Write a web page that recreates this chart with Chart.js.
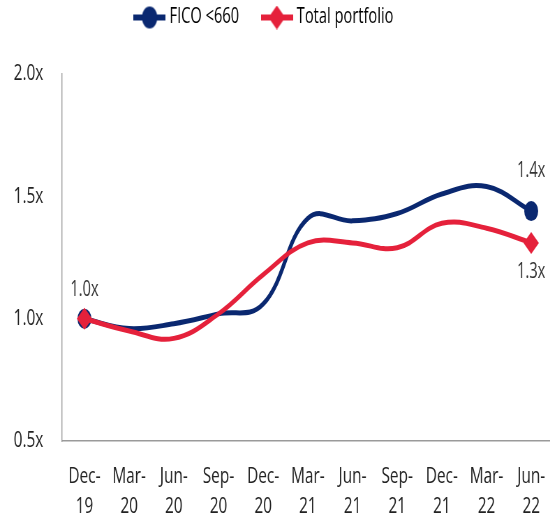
<!DOCTYPE html>
<html>
<head>
<meta charset="utf-8">
<script src="https://cdn.jsdelivr.net/npm/chart.js@4/dist/chart.umd.min.js"></script>
<style>
  html, body { margin: 0; padding: 0; background: #fff; }
  #wrap { width: 550px; height: 523px; overflow: hidden; }
  /* chart is laid out wide and squeezed into the 550px slot */
  #myCanvas { transform: scaleX(0.698); transform-origin: 0 0; }
</style>
</head>
<body>
<div id="wrap"><canvas id="myCanvas" width="804" height="523"></canvas></div>
<script>
'use strict';

// quarter-end labels, split over two lines
const quarters = [['Dec-','19'], ['Mar-','20'], ['Jun-','20'], ['Sep-','20'], ['Dec-','20'], ['Mar-','21'],
  ['Jun-','21'], ['Sep-','21'], ['Dec-','21'], ['Mar-','22'], ['Jun-','22']];
// delinquency multiple vs Dec-19
const ficoLow = [1.0, 0.96, 0.98, 1.02, 1.06, 1.41, 1.40, 1.43, 1.51, 1.54, 1.44];
const totalPortfolio = [1.0, 0.95, 0.92, 1.02, 1.18, 1.31, 1.31, 1.29, 1.39, 1.37, 1.31];
const yTicks = [0.5, 1.0, 1.5, 2.0];

const navy = '#0a2870';
const red = '#e5213b';
const fontName = "'Open Sans', sans-serif";

// only the first and last points get a marker
function endsOnly(size) {
  return function(ctx) {
    return (ctx.dataIndex === 0 || ctx.dataIndex === quarters.length - 1) ? size : 0;
  };
}

// legend swatch: short line with the marker on top
function swatch(color, style) {
  const c = document.createElement('canvas');
  c.width = 46; c.height = 24;
  const g = c.getContext('2d');
  g.strokeStyle = color; g.fillStyle = color; g.lineWidth = 6;
  g.beginPath(); g.moveTo(0, 12); g.lineTo(46, 12); g.stroke();
  g.beginPath();
  if (style === 'circle') {
    g.arc(23, 12, 11, 0, Math.PI * 2);
  } else {
    g.moveTo(23, 0); g.lineTo(35, 12); g.lineTo(23, 24); g.lineTo(11, 12); g.closePath();
  }
  g.fill();
  return c;
}

// legend sits high and a bit left, plot starts further down
const legendGap = {
  id: 'legendGap',
  beforeInit(chart) {
    const legend = chart.legend;
    const fit = legend.fit;
    legend.fit = function() {
      fit.bind(legend)();
      this.height += 36;
    };
    const draw = legend.draw;
    legend.draw = function() {
      const ctx = chart.ctx;
      ctx.save();
      ctx.translate(-22, 0);
      draw.bind(legend)();
      ctx.restore();
    };
  }
};

// value labels next to the end markers
const endLabels = {
  id: 'endLabels',
  afterDatasetsDraw(chart) {
    const ctx = chart.ctx;
    ctx.save();
    ctx.font = '21px ' + fontName;
    ctx.fillStyle = '#333';
    ctx.textAlign = 'center';
    ctx.textBaseline = 'middle';
    const fico = chart.getDatasetMeta(0).data;
    const total = chart.getDatasetMeta(1).data;
    const last = quarters.length - 1;
    ctx.fillText(totalPortfolio[0].toFixed(1) + 'x', fico[0].x, fico[0].y - 29);
    ctx.fillText(ficoLow[last].toFixed(1) + 'x', fico[last].x, fico[last].y - 40);
    ctx.fillText(totalPortfolio[last].toFixed(1) + 'x', total[last].x, total[last].y + 29);
    ctx.restore();
  }
};

const chartSection = document.getElementById('myCanvas').getContext('2d');
let myChart = new Chart(chartSection, {
  type: 'line',
  data: {
    labels: quarters,
    datasets: [
      {
        label: 'FICO <660',
        data: ficoLow,
        order: 1,
        borderColor: navy,
        backgroundColor: navy,
        borderWidth: 5,
        tension: 0.4,
        pointStyle: 'circle',
        pointRadius: endsOnly(10),
        pointHoverRadius: endsOnly(10),
        pointBorderWidth: 0,
      },
      {
        label: 'Total portfolio',
        data: totalPortfolio,
        order: 0,
        borderColor: red,
        backgroundColor: red,
        borderWidth: 5,
        tension: 0.4,
        pointStyle: 'rectRot',
        pointRadius: endsOnly(11),
        pointHoverRadius: endsOnly(11),
        pointBorderWidth: 0,
      },
    ],
  },
  options: {
    responsive: false,
    animation: false,
    layout: { padding: { left: 0, right: 0, top: -29, bottom: -20 } },
    plugins: {
      tooltip: { enabled: false },
      legend: {
        position: 'top',
        align: 'center',
        labels: {
          usePointStyle: true,
          pointStyleWidth: 36,
          font: { family: fontName, size: 21 },
          color: '#222',
          padding: 36,
          generateLabels(chart) {
            return chart.data.datasets.map(function(ds, i) {
              return {
                text: ds.label,
                pointStyle: swatch(ds.borderColor, ds.pointStyle),
                fillStyle: ds.borderColor,
                strokeStyle: ds.borderColor,
                lineWidth: 0,
                hidden: false,
                datasetIndex: i,
              };
            });
          },
        },
      },
    },
    scales: {
      x: {
        offset: true,
        grid: { display: false, drawTicks: false },
        border: { color: '#9a9a9a', width: 1.4 },
        ticks: {
          color: '#222',
          font: { family: fontName, size: 22, lineHeight: 1.36 },
          padding: 21,
          maxRotation: 0,
          autoSkip: false,
        },
      },
      y: {
        min: 0.5,
        max: 2.0,
        afterBuildTicks(axis) {
          axis.ticks = yTicks.map(function(v) { return { value: v }; });
        },
        afterFit(axis) {
          axis.width = 89;
        },
        grid: { display: false, drawTicks: false },
        border: { color: '#9a9a9a', width: 1.4 },
        ticks: {
          color: '#222',
          font: { family: fontName, size: 22 },
          padding: 27,
          callback: function(v) { return Number(v).toFixed(1) + 'x'; },
        },
      },
    },
  },
  plugins: [legendGap, endLabels],
});
</script>
</body>
</html>
